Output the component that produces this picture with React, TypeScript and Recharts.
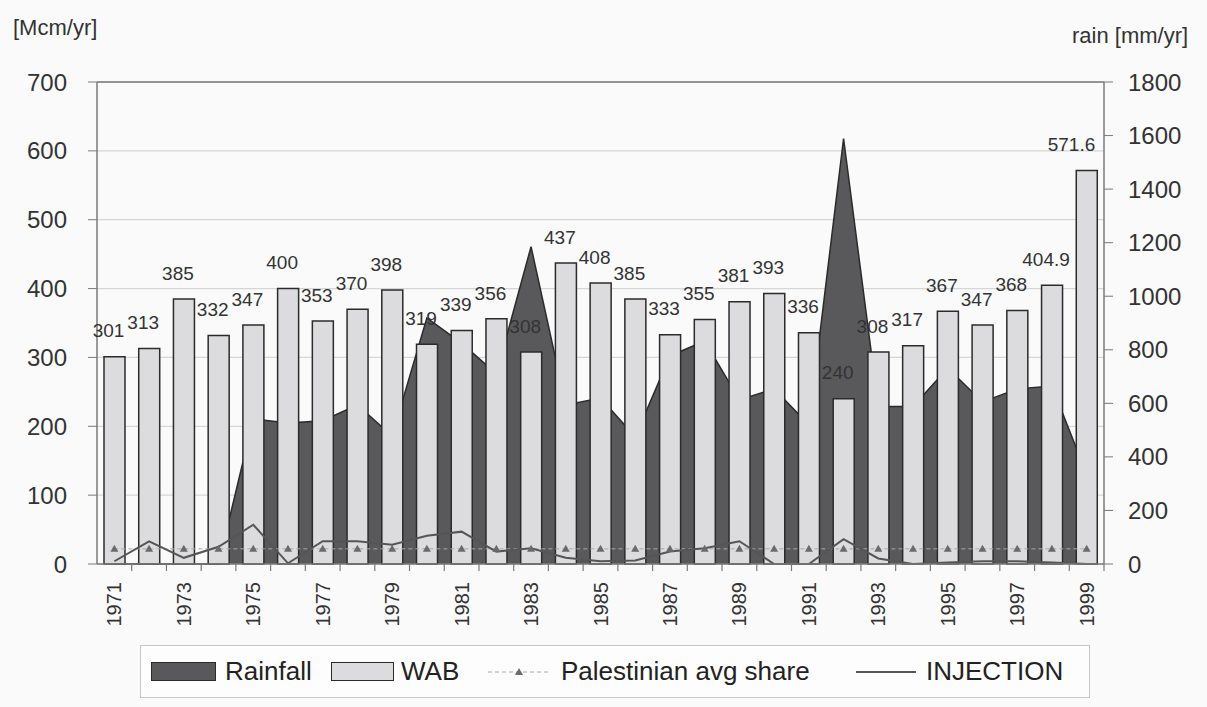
import {
  ComposedChart,
  Area,
  Bar,
  Line,
  XAxis,
  YAxis,
  CartesianGrid,
  Legend,
  LabelList,
  ReferenceLine,
} from "recharts"

const YEARS = [
  "1971", "1972", "1973", "1974", "1975", "1976", "1977", "1978", "1979", "1980",
  "1981", "1982", "1983", "1984", "1985", "1986", "1987", "1988", "1989", "1990",
  "1991", "1992", "1993", "1994", "1995", "1996", "1997", "1998", "1999",
]

// water available balance, Mcm/yr (left axis)
const WAB = [
  301, 313, 385, 332, 347, 400, 353, 370, 398, 319,
  339, 356, 308, 437, 408, 385, 333, 355, 381, 393,
  336, 240, 308, 317, 367, 347, 368, 404.9, 571.6,
]

// rainfall, mm/yr (right axis)
const RAINFALL = [
  0, 0, 0, 0, 542, 527, 535, 594, 478, 919,
  825, 710, 1185, 594, 620, 475, 777, 833, 613, 654,
  520, 1589, 588, 588, 732, 605, 654, 665, 335,
]

const PAL_SHARE = [
  22, 22, 22, 22, 22, 22, 22, 22, 22, 22,
  22, 22, 22, 22, 22, 22, 22, 22, 22, 22,
  22, 22, 22, 22, 22, 22, 22, 22, 22,
]

const INJECTION = [
  4, 33, 9, 25, 57, 1, 33, 33, 28, 41,
  47, 18, 23, 9, 4, 5, 18, 23, 33, 0,
  0, 36, 8, 0, 2, 4, 4, 2, 0,
]

const LEFT_TICKS = [0, 100, 200, 300, 400, 500, 600, 700]
const RIGHT_TICKS = [0, 200, 400, 600, 800, 1000, 1200, 1400, 1600, 1800]

const data = YEARS.map((year, i) => ({
  year,
  wab: WAB[i],
  rain: RAINFALL[i],
  share: PAL_SHARE[i],
  injection: INJECTION[i],
}))

const FONT = '"Liberation Sans", Arial, Helvetica, sans-serif'
const PLOT_LEFT = 97
const PLOT_RIGHT = 1104
const BAND = (PLOT_RIGHT - PLOT_LEFT) / YEARS.length

const RAIN_FILL = "#59595b"
const BAR_FILL = "#dcdcdf"
const EDGE = "#2b2b2b"
const AXIS = "#7a7a7a"

function YearTick(props: any) {
  const { x, y, payload, index } = props
  const edge = x + BAND / 2
  return (
    <g>
      <line x1={edge} x2={edge} y1={y} y2={y + 7} stroke={AXIS} strokeWidth={1.2} />
      {index % 2 === 0 && (
        <text
          x={x}
          y={y + 18}
          dy="0.35em"
          textAnchor="end"
          transform={`rotate(-90, ${x}, ${y + 18})`}
          fontSize={20}
          fill="#333"
          fontFamily={FONT}
        >
          {payload.value}
        </text>
      )}
    </g>
  )
}

function WabLabel(props: any) {
  const { x, y, width, value } = props
  const text = String(value)
  const w = text.length * 10.6
  let cx = x + width / 2 - 6
  if (cx + w / 2 > PLOT_RIGHT - 6) cx = PLOT_RIGHT - 6 - w / 2
  return (
    <text x={cx} y={y - 26} dy="0.35em" textAnchor="middle" fontSize={19} fill="#333" fontFamily={FONT}>
      {text}
    </text>
  )
}

function TriangleDot(props: any) {
  const { cx, cy, index } = props
  if (cx == null || cy == null) return null
  return (
    <polygon
      key={`tri-${index}`}
      points={`${cx},${cy - 4} ${cx - 4},${cy + 3} ${cx + 4},${cy + 3}`}
      fill="#6a6a6a"
    />
  )
}

function AxisTitle(props: any) {
  const { tx, ty, text } = props
  return (
    <text x={tx} y={ty} fontSize={22} fill="#333" fontFamily={FONT}>
      {text}
    </text>
  )
}

function ChartLegend() {
  const textStyle = { position: "absolute" as const, top: 0, lineHeight: "51px", whiteSpace: "nowrap" as const }
  return (
    <div
      style={{
        position: "relative",
        width: 950,
        height: 53,
        boxSizing: "border-box",
        border: "1.5px solid #c6c6c6",
        background: "#fdfdfd",
        fontFamily: FONT,
        fontSize: 26,
        color: "#222",
      }}
    >
      <span style={{ position: "absolute", left: 10, top: 16, width: 65, height: 19, boxSizing: "border-box", background: RAIN_FILL, border: `1.5px solid ${EDGE}` }} />
      <span style={{ ...textStyle, left: 84 }}>Rainfall</span>
      <span style={{ position: "absolute", left: 190, top: 16, width: 63, height: 19, boxSizing: "border-box", background: BAR_FILL, border: `1.5px solid ${EDGE}` }} />
      <span style={{ ...textStyle, left: 260 }}>WAB</span>
      <svg style={{ position: "absolute", left: 347, top: 16 }} width={62} height={20}>
        <line x1={0} x2={62} y1={10} y2={10} stroke="#a8a8a8" strokeWidth={1} strokeDasharray="4 3" />
        <polygon points="31,6 27,13 35,13" fill="#6a6a6a" />
      </svg>
      <span style={{ ...textStyle, left: 420 }}>Palestinian avg share</span>
      <svg style={{ position: "absolute", left: 715, top: 16 }} width={60} height={20}>
        <line x1={0} x2={60} y1={10} y2={10} stroke="#555" strokeWidth={2} />
      </svg>
      <span style={{ ...textStyle, left: 785 }}>INJECTION</span>
    </div>
  )
}

export default function App() {
  return (
    <div style={{ position: "absolute", left: 0, top: 0, width: 1207, height: 707, background: "#fafafa" }}>
      <ComposedChart
        width={1207}
        height={707}
        data={data}
        margin={{ top: 82, right: 0, bottom: 9, left: 0 }}
        style={{ fontFamily: FONT }}
      >
        <CartesianGrid yAxisId="left" vertical={false} stroke="#d6d6d6" strokeWidth={1.2} />
        <XAxis
          dataKey="year"
          interval={0}
          height={81}
          tickSize={0}
          tickMargin={0}
          tickLine={false}
          axisLine={{ stroke: AXIS, strokeWidth: 1.5 }}
          tick={<YearTick />}
        />
        <YAxis
          yAxisId="left"
          width={97}
          domain={[0, 700]}
          ticks={LEFT_TICKS}
          tickSize={9}
          tickMargin={21}
          axisLine={{ stroke: AXIS, strokeWidth: 1.5 }}
          tickLine={{ stroke: AXIS }}
          tick={{ fontSize: 24, fill: "#333", fontFamily: FONT }}
          label={<AxisTitle tx={13} ty={35} text="[Mcm/yr]" />}
        />
        <YAxis
          yAxisId="right"
          orientation="right"
          width={103}
          domain={[0, 1800]}
          ticks={RIGHT_TICKS}
          tickSize={9}
          tickMargin={15}
          axisLine={{ stroke: AXIS, strokeWidth: 1.5 }}
          tickLine={{ stroke: AXIS }}
          tick={{ fontSize: 24, fill: "#333", fontFamily: FONT, textAnchor: "start" }}
          label={<AxisTitle tx={1072} ty={43} text="rain [mm/yr]" />}
        />
        <ReferenceLine yAxisId="left" y={700} stroke={AXIS} strokeWidth={1.5} />
        <Area
          yAxisId="right"
          type="linear"
          dataKey="rain"
          name="Rainfall"
          fill={RAIN_FILL}
          fillOpacity={1}
          stroke={EDGE}
          strokeWidth={1.5}
          activeDot={false}
          isAnimationActive={false}
        />
        <Bar
          yAxisId="left"
          dataKey="wab"
          name="WAB"
          barSize={21}
          fill={BAR_FILL}
          stroke={EDGE}
          strokeWidth={1.5}
          isAnimationActive={false}
        >
          <LabelList dataKey="wab" content={<WabLabel />} />
        </Bar>
        <Line
          yAxisId="left"
          type="linear"
          dataKey="share"
          name="Palestinian avg share"
          stroke="#a8a8a8"
          strokeWidth={1}
          strokeDasharray="4 3"
          dot={<TriangleDot />}
          activeDot={false}
          isAnimationActive={false}
        />
        <Line
          yAxisId="left"
          type="linear"
          dataKey="injection"
          name="INJECTION"
          stroke="#555"
          strokeWidth={2}
          dot={false}
          activeDot={false}
          isAnimationActive={false}
        />
        <Legend
          verticalAlign="bottom"
          height={53}
          wrapperStyle={{ left: 140, width: 950, bottom: 9 }}
          content={<ChartLegend />}
        />
      </ComposedChart>
    </div>
  )
}
